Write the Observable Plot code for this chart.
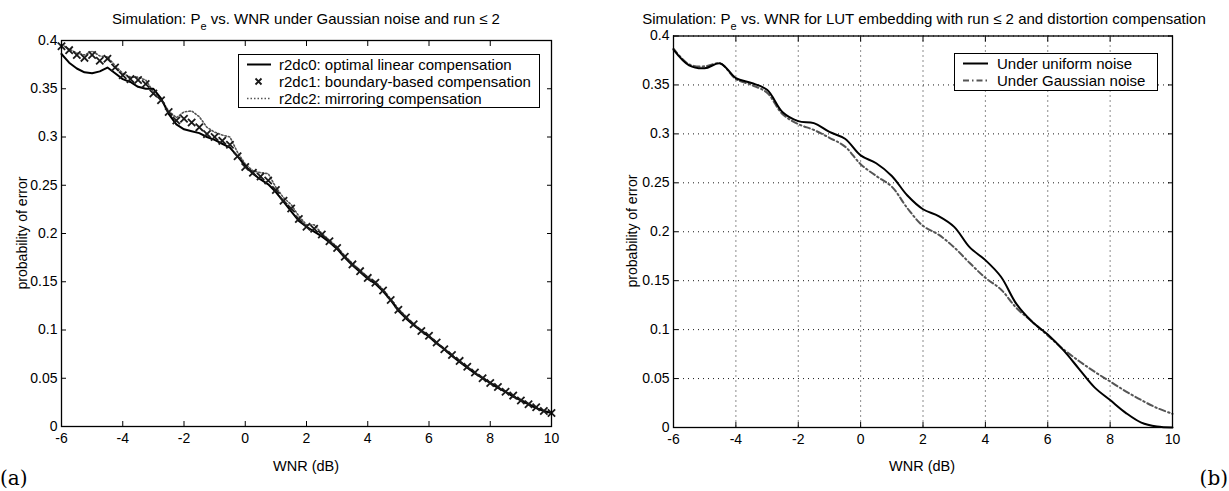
<!DOCTYPE html>
<html>
<head>
<meta charset="utf-8">
<script src="https://cdn.jsdelivr.net/npm/d3@7"></script>
<script src="https://cdn.jsdelivr.net/npm/@observablehq/plot@0.6"></script>
<style>
  html, body { margin: 0; padding: 0; background: #fff; }
  #root { position: relative; width: 1229px; height: 491px; font-family: "Liberation Sans", Arial, Helvetica, sans-serif; color: #000; overflow: hidden; }
  .chart { position: absolute; top: 0; }
  .title { position: absolute; top: 10px; font-size: 15px; white-space: nowrap; transform: translateX(-50%); line-height: 18px; }
  .title sub { font-size: 11px; vertical-align: -6px; line-height: 0; }
  .legend { position: absolute; border: 1px solid #000; background: #fff; box-sizing: border-box; font-size: 15px; }
  .legend .row { position: absolute; left: 0; height: 17px; line-height: 17px; white-space: nowrap; }
  .legend svg { position: absolute; top: 0; }
  .legend span { position: absolute; top: 0; }
  .panel { position: absolute; font-family: "DejaVu Serif", "Liberation Serif", serif; font-size: 20px; }
  .xlab { position: absolute; top: 458px; font-size: 14.5px; transform: translateX(-50%); white-space: nowrap; line-height: 17px; }
  .ylab { position: absolute; font-size: 14px; white-space: nowrap; line-height: 16px; transform: translate(-50%, -50%) rotate(-90deg); }
</style>
</head>
<body>
<div id="root">
  <div id="left" class="chart" style="left:0px"></div>
  <div id="right" class="chart" style="left:600px"></div>
  <div class="title" style="left:306px">Simulation: P<sub>e</sub> vs. WNR under Gaussian noise and run ≤ 2</div>
  <div class="title" style="left:924px">Simulation: P<sub>e</sub> vs. WNR for LUT embedding with run ≤ 2 and distortion compensation</div>
  <div class="xlab" style="left:306px">WNR (dB)</div>
  <div class="xlab" style="left:922px">WNR (dB)</div>
  <div class="ylab" style="left:22px; top:233px">probability of error</div>
  <div class="ylab" style="left:632px; top:231px">probability of error</div>
  <div id="legL" class="legend" style="left:238px; top:54px; width:302px; height:54px;"></div>
  <div id="legR" class="legend" style="left:954px; top:53px; width:204px; height:38px;"></div>
  <div class="panel" style="left:0px; top:466px;">(a)</div>
  <div class="panel" style="right:1px; top:466px;">(b)</div>
</div>
<script>
// ---------- data ----------
const xTicks = [-6, -4, -2, 0, 2, 4, 6, 8, 10];
const yTicks = [0, 0.05, 0.1, 0.15, 0.2, 0.25, 0.3, 0.35, 0.4];

// Left chart (a): WNR sample points (dB)
const wnrA = [-6, -5.75, -5.5, -5.25, -5, -4.75, -4.5, -4.25, -4, -3.75, -3.5, -3.25, -3, -2.75, -2.5, -2.25,
  -2, -1.75, -1.5, -1.25, -1, -0.75, -0.5, -0.25, 0, 0.25, 0.5, 0.75, 1, 1.25, 1.5, 1.75,
  2, 2.25, 2.5, 2.75, 3, 3.25, 3.5, 3.75, 4, 4.25, 4.5, 4.75, 5, 5.25, 5.5, 5.75,
  6, 6.25, 6.5, 6.75, 7, 7.25, 7.5, 7.75, 8, 8.25, 8.5, 8.75, 9, 9.25, 9.5, 9.75, 10];
const r2dc0 = [0.386, 0.377, 0.371, 0.367, 0.366, 0.368, 0.372, 0.366, 0.360, 0.357, 0.352, 0.350, 0.350, 0.340, 0.324, 0.313,
  0.308, 0.306, 0.304, 0.300, 0.297, 0.293, 0.289, 0.280, 0.270, 0.262, 0.256, 0.251, 0.243, 0.233, 0.223, 0.213,
  0.207, 0.202, 0.197, 0.191, 0.184, 0.175, 0.167, 0.160, 0.153, 0.148, 0.140, 0.131, 0.120, 0.112, 0.105, 0.099,
  0.093, 0.086, 0.080, 0.073, 0.067, 0.061, 0.055, 0.050, 0.045, 0.040, 0.036, 0.031, 0.027, 0.023, 0.019, 0.016, 0.014];
const r2dc1 = [0.394, 0.390, 0.385, 0.382, 0.385, 0.379, 0.381, 0.372, 0.364, 0.360, 0.359, 0.355, 0.345, 0.338, 0.326, 0.317,
  0.319, 0.315, 0.310, 0.303, 0.300, 0.296, 0.292, 0.280, 0.269, 0.263, 0.259, 0.255, 0.245, 0.234, 0.226, 0.215,
  0.207, 0.205, 0.199, 0.192, 0.185, 0.176, 0.168, 0.161, 0.154, 0.149, 0.141, 0.131, 0.121, 0.113, 0.106, 0.099,
  0.094, 0.087, 0.080, 0.074, 0.068, 0.062, 0.056, 0.050, 0.045, 0.041, 0.036, 0.032, 0.027, 0.023, 0.020, 0.016, 0.014];
const r2dc2 = [0.396, 0.391, 0.387, 0.385, 0.389, 0.384, 0.383, 0.374, 0.366, 0.362, 0.362, 0.359, 0.347, 0.339, 0.327, 0.320,
  0.326, 0.327, 0.321, 0.310, 0.305, 0.302, 0.300, 0.284, 0.272, 0.265, 0.263, 0.262, 0.248, 0.237, 0.230, 0.218,
  0.209, 0.209, 0.200, 0.193, 0.186, 0.177, 0.169, 0.162, 0.155, 0.150, 0.142, 0.132, 0.122, 0.114, 0.106, 0.100,
  0.094, 0.087, 0.081, 0.074, 0.068, 0.062, 0.056, 0.051, 0.046, 0.041, 0.036, 0.032, 0.028, 0.024, 0.020, 0.016, 0.014];
const seriesA = ["r2dc0: optimal linear compensation", "r2dc1: boundary-based compensation", "r2dc2: mirroring compensation"];

// Right chart (b)
const wnrB = [-6, -5.5, -5, -4.5, -4, -3.5, -3, -2.5, -2, -1.5, -1, -0.5, 0, 0.5, 1, 1.5,
  2, 2.5, 3, 3.5, 4, 4.5, 5, 5.5, 6, 6.5, 7, 7.5, 8, 8.5, 9, 9.5, 10];
const uniformNoise = [0.386, 0.370, 0.367, 0.372, 0.357, 0.352, 0.345, 0.322, 0.313, 0.311, 0.302, 0.295, 0.278, 0.270, 0.257, 0.237,
  0.223, 0.216, 0.205, 0.184, 0.171, 0.154, 0.126, 0.108, 0.095, 0.079, 0.060, 0.041, 0.028, 0.015, 0.005, 0.001, 0.000];
const gaussianNoise = [0.387, 0.371, 0.369, 0.372, 0.356, 0.350, 0.342, 0.320, 0.310, 0.304, 0.296, 0.287, 0.269, 0.257, 0.246, 0.224,
  0.206, 0.197, 0.184, 0.168, 0.153, 0.141, 0.122, 0.108, 0.094, 0.080, 0.068, 0.057, 0.047, 0.037, 0.028, 0.020, 0.014];
const seriesB = ["Under uniform noise", "Under Gaussian noise"];

// ---------- helpers ----------
const fmtY = d => String(+d.toFixed(2));
const fmtX = d => String(d);
const FONT = "'Liberation Sans', Arial, Helvetica, sans-serif";

function boxAxes() {
  return [
    Plot.axisX(xTicks, {anchor: "bottom", tickSize: -5, tickPadding: 12, tickFormat: fmtX, label: null}),
    Plot.axisX(xTicks, {anchor: "top", tickSize: -5, tickFormat: () => "", label: null}),
    Plot.axisY(yTicks, {anchor: "left", tickSize: -5, tickPadding: 9, tickFormat: fmtY, label: null}),
    Plot.axisY(yTicks, {anchor: "right", tickSize: -5, tickFormat: () => "", label: null}),
    Plot.frame({stroke: "#000", strokeWidth: 1.3})
  ];
}

// ---------- left chart ----------
const rowsA0 = wnrA.map((x, i) => ({x, y: r2dc0[i]}));
const rowsA1 = wnrA.map((x, i) => ({x, y: r2dc1[i]}));
const rowsA2 = wnrA.map((x, i) => ({x, y: r2dc2[i]}));

const left = Plot.plot({
  width: 600, height: 470,
  marginLeft: 61, marginRight: 49, marginTop: 40, marginBottom: 44,
  style: {fontSize: "14px", fontFamily: FONT, color: "#000", background: "transparent", overflow: "visible"},
  x: {domain: [-6, 10]},
  y: {domain: [0, 0.4]},
  marks: [
    Plot.line(rowsA2, {x: "x", y: "y", stroke: "#555", strokeWidth: 1.6, strokeDasharray: "1.5,2"}),
    Plot.line(rowsA0, {x: "x", y: "y", stroke: "#000", strokeWidth: 2}),
    Plot.dot(rowsA1, {x: "x", y: "y", symbol: "times", r: 3.4, stroke: "#1a1a1a", strokeWidth: 1.8}),
    ...boxAxes()
  ]
});
document.getElementById("left").appendChild(left);

// ---------- right chart ----------
const rowsB0 = wnrB.map((x, i) => ({x, y: uniformNoise[i]}));
const rowsB1 = wnrB.map((x, i) => ({x, y: gaussianNoise[i]}));

const right = Plot.plot({
  width: 629, height: 470,
  marginLeft: 73, marginRight: 57, marginTop: 35.5, marginBottom: 43,
  style: {fontSize: "14px", fontFamily: FONT, color: "#000", background: "transparent", overflow: "visible"},
  x: {domain: [-6, 10]},
  y: {domain: [0, 0.4]},
  marks: [
    Plot.gridX(xTicks, {stroke: "#000", strokeOpacity: 0.9, strokeDasharray: "1,4"}),
    Plot.gridY(yTicks, {stroke: "#000", strokeOpacity: 0.9, strokeDasharray: "1,4"}),
    Plot.line(rowsB1, {x: "x", y: "y", stroke: "#555", strokeWidth: 2, strokeDasharray: "6,3,1.5,3", curve: "catmull-rom"}),
    Plot.line(rowsB0, {x: "x", y: "y", stroke: "#000", strokeWidth: 2, curve: "catmull-rom"}),
    ...boxAxes()
  ]
});
document.getElementById("right").appendChild(right);

// ---------- legends ----------
function legendRow(textLeft, top, label, sample) {
  const row = document.createElement("div");
  row.className = "row";
  row.style.top = top + "px";
  row.innerHTML = `<svg width="40" height="17" style="left:0">${sample}</svg><span style="left:${textLeft}px">${label}</span>`;
  return row;
}
const legL = document.getElementById("legL");
legL.appendChild(legendRow(40, 1, seriesA[0], `<line x1="8" x2="32" y1="8.5" y2="8.5" stroke="#000" stroke-width="2"/>`));
legL.appendChild(legendRow(40, 18, seriesA[1], `<path d="M16.5,5.5L22.5,11.5M22.5,5.5L16.5,11.5" stroke="#1a1a1a" stroke-width="1.8"/>`));
legL.appendChild(legendRow(40, 35, seriesA[2], `<line x1="8" x2="32" y1="8.5" y2="8.5" stroke="#555" stroke-width="1.6" stroke-dasharray="1.5,2"/>`));
const legR = document.getElementById("legR");
legR.appendChild(legendRow(42, 1, seriesB[0], `<line x1="8" x2="33" y1="8.5" y2="8.5" stroke="#000" stroke-width="2"/>`));
legR.appendChild(legendRow(42, 18, seriesB[1], `<line x1="8" x2="33" y1="8.5" y2="8.5" stroke="#555" stroke-width="2" stroke-dasharray="6,3,1.5,3"/>`));
</script>
</body>
</html>
